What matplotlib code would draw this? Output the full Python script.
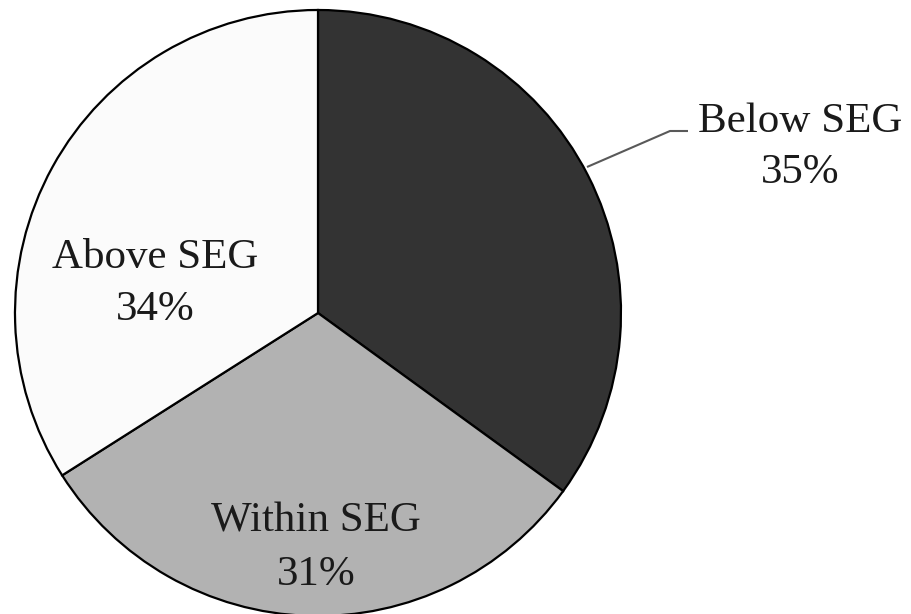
import matplotlib
matplotlib.use("Agg")
import matplotlib.pyplot as plt

categories = ["Below SEG", "Within SEG", "Above SEG"]
values = [35, 31, 34]
pct_labels = ["35%", "31%", "34%"]
colors = ["#333333", "#b2b2b2", "#fbfbfb"]

W, H = 911, 614
CX, CY, R = 318, 313, 303

fig = plt.figure(figsize=(W / 100, H / 100), dpi=100)
ax = fig.add_axes([0, 0, 1, 1])

ax.pie(values, colors=colors, startangle=90, counterclock=False, radius=1,
       wedgeprops=dict(edgecolor="black", linewidth=1.6))

ax.set_aspect("auto")
ax.set_xlim(-CX / R, (W - CX) / R)
ax.set_ylim(-(H - CY) / R, CY / R)
ax.axis("off")


def px(x, y):
    return (x - CX) / R, (CY - y) / R


font = dict(family=["Liberation Serif", "DejaVu Serif"], fontsize=31, color="#1a1a1a")
# label positions (pixel centre x, baseline of line 1, baseline of line 2)
label_pos = {
    "Below SEG": (800, 132, 183),
    "Within SEG": (316, 532, 585),
    "Above SEG": (155, 268, 320),
}
for cat, pct in zip(categories, pct_labels):
    x, b1, b2 = label_pos[cat]
    ax.text(*px(x, b1), cat, ha="center", va="baseline", **font)
    ax.text(*px(x, b2), pct, ha="center", va="baseline", **font)

# leader line for Below SEG
lx, ly = zip(px(587, 167), px(670, 131), px(688, 131))
ax.plot(lx, ly, color="#595959", linewidth=1.5, solid_capstyle="butt")

fig.savefig("out.png", dpi=100)
